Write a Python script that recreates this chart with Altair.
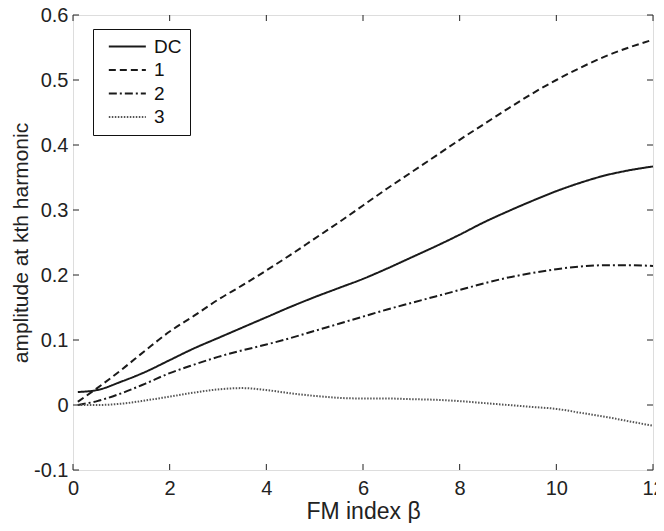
import altair as alt
import pandas as pd

beta = [0.1, 0.5, 1.0, 1.5, 2.0, 2.5, 3.0, 3.5, 4.0, 4.5, 5.0, 5.5, 6.0,
        6.5, 7.0, 7.5, 8.0, 8.5, 9.0, 9.5, 10.0, 10.5, 11.0, 11.5, 12.0]
dc = [0.020, 0.023, 0.036, 0.051, 0.069, 0.087, 0.103, 0.119, 0.135, 0.151,
      0.166, 0.180, 0.194, 0.210, 0.227, 0.244, 0.262, 0.281, 0.298, 0.314,
      0.329, 0.342, 0.353, 0.361, 0.367]
h1 = [0.005, 0.026, 0.054, 0.084, 0.113, 0.137, 0.162, 0.184, 0.207, 0.231,
      0.256, 0.281, 0.307, 0.333, 0.358, 0.383, 0.408, 0.432, 0.456, 0.479,
      0.500, 0.519, 0.536, 0.550, 0.562]
h2 = [0.000, 0.006, 0.018, 0.033, 0.049, 0.062, 0.074, 0.084, 0.093, 0.103,
      0.114, 0.125, 0.136, 0.147, 0.157, 0.167, 0.177, 0.187, 0.196, 0.203,
      0.209, 0.213, 0.215, 0.215, 0.214]
h3 = [0.000, 0.000, 0.002, 0.007, 0.013, 0.019, 0.024, 0.026, 0.023, 0.018,
      0.014, 0.011, 0.010, 0.010, 0.009, 0.008, 0.006, 0.003, 0.000, -0.003,
      -0.006, -0.012, -0.018, -0.025, -0.032]

series_names = ["DC", "1", "2", "3"]
series_values = [dc, h1, h2, h3]
x_ticks = [0, 2, 4, 6, 8, 10, 12]
y_ticks = [-0.1, 0.0, 0.1, 0.2, 0.3, 0.4, 0.5, 0.6]

rows = []
for name, vals in zip(series_names, series_values):
    for b, v in zip(beta, vals):
        rows.append({"beta": b, "amp": v, "series": name})
df = pd.DataFrame(rows)

FONT = "Liberation Sans"
W, H = 580, 455
TL = 6

xscale = alt.Scale(domain=[0, 12], nice=False, zero=False)
yscale = alt.Scale(domain=[-0.1, 0.6], nice=False, zero=False)

xaxis = alt.Axis(values=x_ticks, ticks=False, tickSize=0, domain=False, grid=False,
                 labelFontSize=20, labelFont=FONT, labelColor="#222",
                 labelPadding=24, labelBaseline="alphabetic",
                 title="FM index β", titleFont=FONT,
                 titleFontSize=23, titleFontWeight="normal", titleColor="#222",
                 titleX=W / 2, titleY=48, titleBaseline="alphabetic",
                 titleAlign="center", labelFlush=False)
yaxis = alt.Axis(values=y_ticks, ticks=False, tickSize=0, domain=False, grid=False,
                 labelFontSize=20, labelFont=FONT, labelColor="#222",
                 labelPadding=5,
                 labelExpr="toString(round(datum.value*10)/10)",
                 title="amplitude at kth harmonic", titleFont=FONT,
                 titleFontSize=21, titleFontWeight="normal", titleColor="#222",
                 titleX=-46, titleY=H / 2, titleAngle=270, titleAlign="center",
                 titleBaseline="alphabetic", labelFlush=False)

legend = alt.Legend(title=None, orient="none", legendX=20, legendY=14,
                    symbolType="M-0.28,0H5.89", symbolSize=144,
                    symbolStrokeWidth=2, labelFontSize=19,
                    labelFont=FONT, labelColor="#111",
                    labelExpr="datum.label + '\u00a0\u00a0\u00a0\u00a0\u00a0'",
                    fillColor="white", strokeColor="#111",
                    padding=8, rowPadding=3.5, labelOffset=34)

lines = alt.Chart(df).mark_line(strokeWidth=2, interpolate="monotone").encode(
    x=alt.X("beta:Q", scale=xscale, axis=xaxis),
    y=alt.Y("amp:Q", scale=yscale, axis=yaxis),
    color=alt.Color("series:N",
                    scale=alt.Scale(domain=series_names,
                                    range=["#1a1a1a", "#1a1a1a", "#1a1a1a", "#555555"]),
                    legend=legend),
    strokeDash=alt.StrokeDash("series:N",
                              scale=alt.Scale(domain=series_names,
                                              range=[[1, 0], [7, 4], [8, 3, 2, 3], [1.5, 1.5]]),
                              legend=legend),
    order=alt.Order("beta:Q"),
)

xt = pd.DataFrame({"t": x_ticks})
yt = pd.DataFrame({"t": y_ticks})

tick_x = alt.X("t:Q", scale=xscale, axis=xaxis)
tick_y = alt.Y("t:Q", scale=yscale, axis=yaxis)

bottom = alt.Chart(xt).mark_rule(color="#222", strokeWidth=1).encode(
    x=tick_x, y=alt.value(H), y2=alt.value(H - TL))
top = alt.Chart(xt).mark_rule(color="#222", strokeWidth=1).encode(
    x=tick_x, y=alt.value(0), y2=alt.value(TL))
left = alt.Chart(yt).mark_rule(color="#222", strokeWidth=1).encode(
    y=tick_y, x=alt.value(0), x2=alt.value(TL))
right = alt.Chart(yt).mark_rule(color="#222", strokeWidth=1).encode(
    y=tick_y, x=alt.value(W), x2=alt.value(W - TL))

chart = alt.layer(lines, bottom, top, left, right).properties(
    width=W, height=H,
    autosize=alt.AutoSizeParams(type="none"),
    padding={"left": 65, "top": 7, "right": 3, "bottom": 53},
).configure_view(stroke="#222", strokeWidth=1.2).configure(background="white")

chart.save("out.html", embed_options={"renderer": "svg", "actions": False})
